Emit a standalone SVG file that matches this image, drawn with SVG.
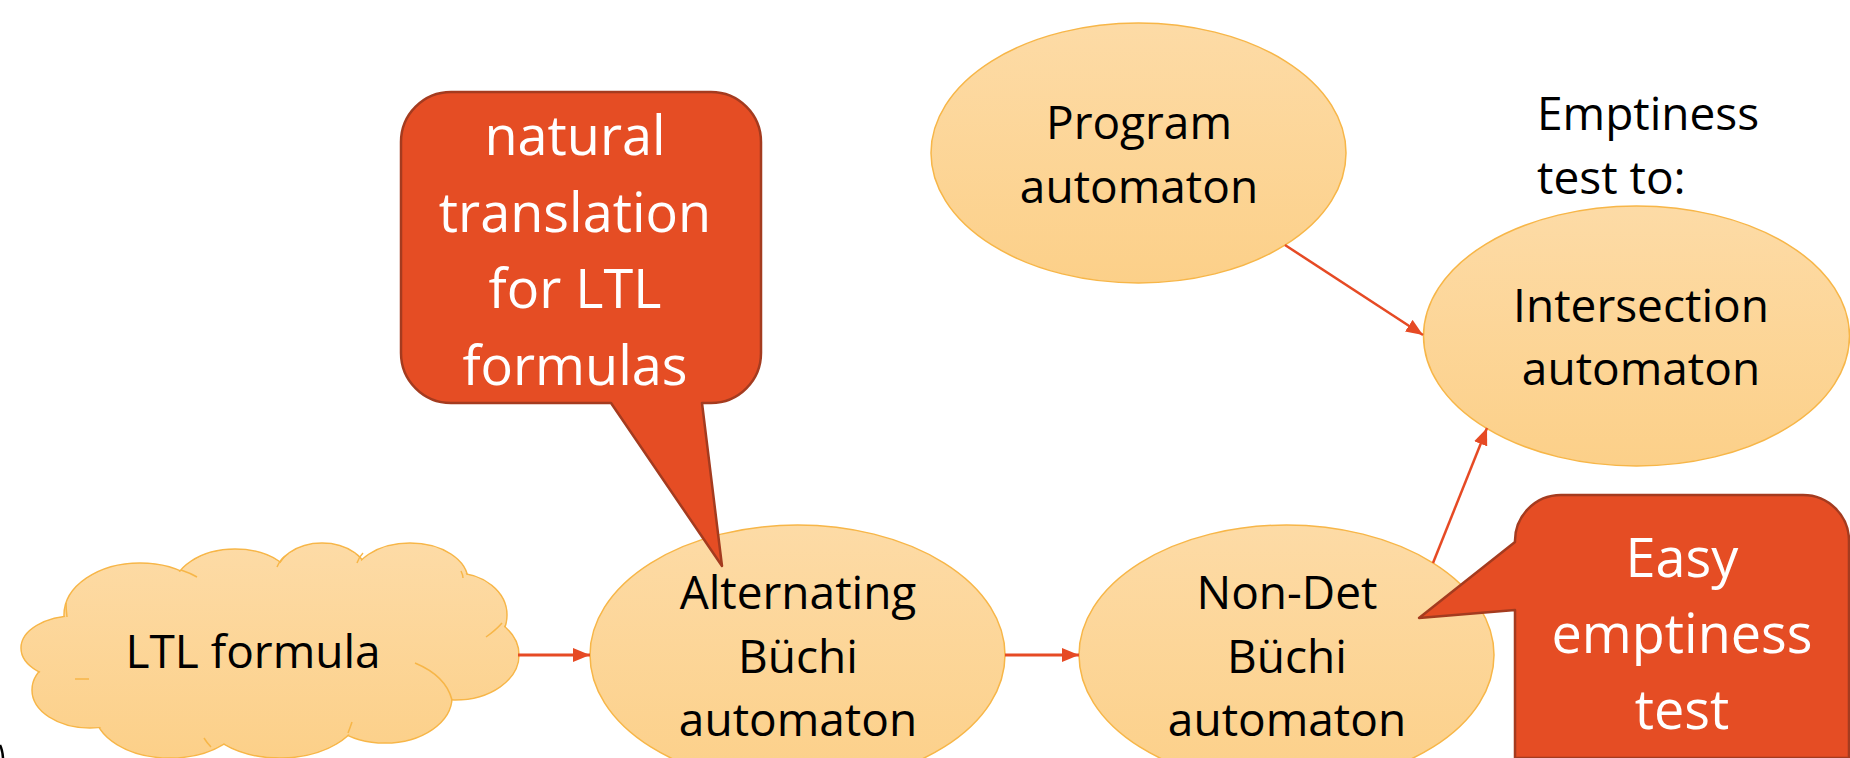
<svg xmlns="http://www.w3.org/2000/svg" width="1850" height="758" viewBox="0 0 1850 758">
<defs>
<linearGradient id="g" x1="0" y1="0" x2="0" y2="1">
<stop offset="0" stop-color="#FDDBA6"/>
<stop offset="1" stop-color="#FCD089"/>
</linearGradient>
<linearGradient id="gc" gradientUnits="userSpaceOnUse" x1="0" y1="543" x2="0" y2="758">
<stop offset="0" stop-color="#FDDBA6"/>
<stop offset="1" stop-color="#FCD089"/>
</linearGradient>
<marker id="ah" markerUnits="userSpaceOnUse" markerWidth="17" markerHeight="14" refX="17" refY="7" orient="auto">
<path d="M0,0 L17,7 L0,14 z" fill="#E64A24"/>
</marker>
<style>
.node{fill:url(#g);stroke:#F7B648;stroke-width:1.5}
.lbl{font-family:"Open Sans","Liberation Sans",sans-serif;font-size:46px;fill:#000;text-anchor:middle}
.call{fill:#E54D24;stroke:#A43B1F;stroke-width:2.5;stroke-linejoin:round}
.wt{font-family:"Open Sans","Liberation Sans",sans-serif;font-size:54px;fill:#fff;text-anchor:middle}
.edge{stroke:#E64A24;fill:none;marker-end:url(#ah)}
.cs{fill:url(#gc);stroke:#F7B648;stroke-width:1.5}
.cf{fill:url(#gc);stroke:none}
.ci{fill:none;stroke:#F7B648;stroke-width:1.5}
</style>
</defs>
<rect width="1850" height="758" fill="#fff"/>
<path d="M0,745 Q2.5,750 3,758" stroke="#000" stroke-width="2.5" fill="none"/>

<g id="ltl-formula">
<g class="cs">
<ellipse cx="140" cy="615" rx="76" ry="52"/>
<ellipse cx="235" cy="590" rx="62" ry="41"/>
<ellipse cx="322" cy="576" rx="46" ry="33"/>
<ellipse cx="410" cy="581" rx="58" ry="38"/>
<ellipse cx="455" cy="615" rx="52" ry="42"/>
<ellipse cx="455" cy="655" rx="64" ry="45"/>
<ellipse cx="385" cy="697" rx="67" ry="46"/>
<ellipse cx="280" cy="710" rx="80" ry="48"/>
<ellipse cx="170" cy="712" rx="75" ry="46"/>
<ellipse cx="90" cy="690" rx="58" ry="38"/>
<ellipse cx="75" cy="648" rx="54" ry="32"/>
</g>
<g class="cf">
<ellipse cx="140" cy="615" rx="75" ry="51"/>
<ellipse cx="235" cy="590" rx="61" ry="40"/>
<ellipse cx="322" cy="576" rx="45" ry="32"/>
<ellipse cx="410" cy="581" rx="57" ry="37"/>
<ellipse cx="455" cy="615" rx="51" ry="41"/>
<ellipse cx="455" cy="655" rx="63" ry="44"/>
<ellipse cx="385" cy="697" rx="66" ry="45"/>
<ellipse cx="280" cy="710" rx="79" ry="47"/>
<ellipse cx="170" cy="712" rx="74" ry="45"/>
<ellipse cx="90" cy="690" rx="57" ry="37"/>
<ellipse cx="75" cy="648" rx="53" ry="31"/>
<ellipse cx="270" cy="650" rx="200" ry="80"/>
</g>
<g class="ci">
<path d="M181,570 Q190,573 197,577"/>
<path d="M277,567 Q280,560 285,556"/>
<path d="M357,563 Q359,557 363,553"/>
<path d="M461,571 Q463,575 463,578"/>
<path d="M486,637 Q496,630 502,623"/>
<path d="M415,663 Q446,676 452,700"/>
<path d="M352,722 Q350,728 348,733"/>
<path d="M204,738 Q207,743 211,747"/>
<path d="M89,679 L75,679"/>
<path d="M67,617 Q66,609 66,603"/>
</g>
<text class="lbl" x="253" y="668">LTL formula</text>
</g>

<g id="alternating">
<ellipse class="node" cx="797.5" cy="655" rx="207.5" ry="130"/>
<text class="lbl" x="798" y="609">Alternating</text>
<text class="lbl" x="798" y="673">Büchi</text>
<text class="lbl" x="798" y="736">automaton</text>
</g>

<g id="nondet">
<ellipse class="node" cx="1286.5" cy="655" rx="207.5" ry="130"/>
<text class="lbl" x="1287" y="609">Non-Det</text>
<text class="lbl" x="1287" y="673">Büchi</text>
<text class="lbl" x="1287" y="736">automaton</text>
</g>

<g id="program">
<ellipse class="node" cx="1138.5" cy="153" rx="207.5" ry="130"/>
<text class="lbl" x="1139" y="139">Program</text>
<text class="lbl" x="1139" y="203">automaton</text>
</g>

<g id="intersection">
<ellipse class="node" cx="1636.5" cy="336" rx="213" ry="130"/>
<text class="lbl" x="1641" y="322">Intersection</text>
<text class="lbl" x="1641" y="385">automaton</text>
</g>

<g id="emptiness-label">
<text class="lbl" style="text-anchor:start" x="1537" y="130">Emptiness</text>
<text class="lbl" style="text-anchor:start" x="1537" y="194">test to:</text>
</g>

<g id="connectors">
<line class="edge" x1="518" y1="655" x2="590" y2="655" stroke-width="3"/>
<line class="edge" x1="1005" y1="655" x2="1079" y2="655" stroke-width="3"/>
<line class="edge" x1="1285" y1="245" x2="1423" y2="335" stroke-width="2.5"/>
<line class="edge" x1="1433" y1="563" x2="1487" y2="428" stroke-width="2.5"/>
</g>

<g id="callout-natural">
<path class="call" d="M451,92 H711 A50,50 0 0 1 761,142 V353 A50,50 0 0 1 711,403 H702 L722,566 L611,403 H451 A50,50 0 0 1 401,353 V142 A50,50 0 0 1 451,92 Z"/>
<text class="wt" x="575" y="155">natural</text>
<text class="wt" x="575" y="232">translation</text>
<text class="wt" x="575" y="308">for LTL</text>
<text class="wt" x="575" y="385">formulas</text>
</g>

<g id="callout-easy">
<path class="call" d="M1561,495 H1803 A46,46 0 0 1 1849,541 V758 H1515 V610 L1419,618 L1515,542 A46,46 0 0 1 1561,495 Z"/>
<text class="wt" x="1682" y="577">Easy</text>
<text class="wt" x="1682" y="653">emptiness</text>
<text class="wt" x="1682" y="729">test</text>
</g>
</svg>
